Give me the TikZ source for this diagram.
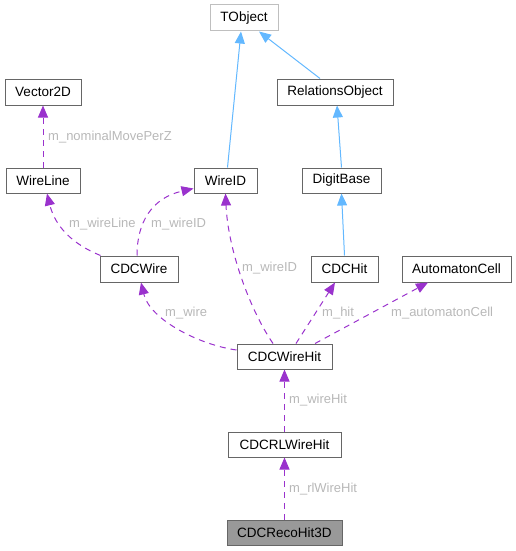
\documentclass[tikz,border=0pt]{standalone}
\usepackage{fontspec}
\setmainfont{Liberation Sans}
\usetikzlibrary{arrows.meta,calc}
\definecolor{boxborder}{HTML}{666666}
\definecolor{lightborder}{HTML}{BFBFBF}
\definecolor{inhblue}{HTML}{63B8FF}
\definecolor{usepurple}{HTML}{9A32CD}
\definecolor{labgray}{HTML}{B8B8B8}
\definecolor{mainfill}{HTML}{999999}
\begin{document}
\begin{tikzpicture}[x=1pt,y=-1pt,
  cls/.style={draw=boxborder,fill=white,line width=1pt,inner sep=0pt,minimum height=25pt,
    font=\fontsize{13.5}{15}\selectfont},
  inh/.style={draw=inhblue,line width=1pt,-{Triangle[length=12pt,width=10pt]}},
  use/.style={draw=usepurple,line width=1pt,dash pattern=on 6pt off 5pt,-{Triangle[length=12pt,width=10pt,sep=0pt]}},
  lab/.style={text=labgray,inner sep=0pt,anchor=base west,font=\fontsize{13}{15}\selectfont}]
\useasboundingbox (0,0) rectangle (516,551);
% nodes
\node[cls,draw=lightborder,minimum width=68pt,minimum height=26pt] (tobject) at (244,18) {TObject};
\node[cls,minimum width=76pt,minimum height=26pt] (vector2d) at (43,92) {Vector2D};
\node[cls,minimum width=116pt,minimum height=26pt] (relobj) at (335,92) {RelationsObject};
\node[cls,minimum width=74pt] (wireline) at (43,180.5) {WireLine};
\node[cls,minimum width=63pt] (wireid) at (225.5,180.5) {WireID};
\node[cls,minimum width=79pt] (digitbase) at (341.5,180.5) {DigitBase};
\node[cls,minimum width=78pt,minimum height=26pt] (cdcwire) at (139,269) {CDCWire};
\node[cls,minimum width=67pt,minimum height=26pt] (cdchit) at (344.5,269) {CDCHit};
\node[cls,minimum width=109pt,minimum height=26pt] (autocell) at (456.5,269) {AutomatonCell};
\node[cls,minimum width=95pt] (cdcwirehit) at (284.5,356.5) {CDCWireHit};
\node[cls,minimum width=113pt] (cdcrlwirehit) at (284.5,444.5) {CDCRLWireHit};
\node[cls,fill=mainfill,minimum width=115pt] (cdcrecohit) at (284.5,532.5) {CDCRecoHit3D};
% inheritance
\draw[inh] ([xshift=2pt]wireid.north) -- ([xshift=-3pt]tobject.south);
\draw[inh] ([xshift=-15pt]relobj.north) -- ([xshift=15pt]tobject.south);
\draw[inh] (digitbase.north) -- ([xshift=2pt]relobj.south);
\draw[inh] (cdchit.north) -- (digitbase.south);
% usage
\draw[use] (wireline.north) -- (vector2d.south);
\draw[use] ([xshift=1pt]cdcwire.north west) .. controls (72,244) and (55,226) .. ([xshift=4pt]wireline.south);
\draw[use] ([xshift=-2pt]cdcwire.north) .. controls (137,222) and (152,198) .. ([yshift=5pt]wireid.south west);
\draw[use] ([xshift=-11.5pt]cdcwirehit.north) .. controls (250,310) and (228,250) .. (wireid.south);
\draw[use] ([yshift=6.5pt]cdcwirehit.west) .. controls (200,345) and (150,320) .. ([xshift=2pt]cdcwire.south);
\draw[use] ([xshift=11.5pt]cdcwirehit.north) -- ([xshift=-9.5pt]cdchit.south);
\draw[use] ([xshift=30.5pt]cdcwirehit.north) -- ([xshift=-28.5pt]autocell.south);
\draw[use] (cdcrlwirehit.north) -- (cdcwirehit.south);
\draw[use] (cdcrecohit.north) -- (cdcrlwirehit.south);
% labels
\node[lab] (l1) at (48,140.5) {m\_nominalMovePerZ};
\node[lab] (l2) at (69,227.5) {m\_wireLine};
\node[lab] (l3) at (151,227.5) {m\_wireID};
\node[lab] (l4) at (242,271.5) {m\_wireID};
\node[lab] (l5) at (165,316.5) {m\_wire};
\node[lab] (l6) at (322,316.5) {m\_hit};
\node[lab] (l7) at (391,316.5) {m\_automatonCell};
\node[lab] (l8) at (289,403.5) {m\_wireHit};
\node[lab] (l9) at (289,492.5) {m\_rlWireHit};
\end{tikzpicture}
\end{document}
